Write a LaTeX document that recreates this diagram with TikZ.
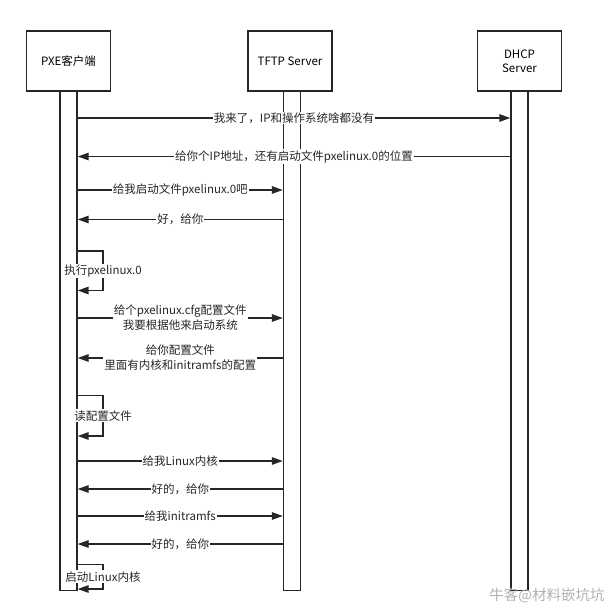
\documentclass[tikz,border=0pt]{standalone}
\usepackage{fontspec}
\setmainfont{Noto Sans CJK SC}
\usetikzlibrary{arrows.meta}
\begin{document}
\begin{tikzpicture}[x=1pt,y=-1pt,
  actor/.style={draw=black!85,line width=1.6pt,fill=white,minimum width=84pt,minimum height=60pt,align=center,font=\fontsize{11.5}{14}\selectfont,inner sep=0pt},
  bar/.style={draw=black!85,line width=1.4pt,fill=white,minimum width=17pt,minimum height=499pt,inner sep=0pt},
  msg/.style={draw=black!85,line width=1.4pt,-{Triangle[length=11pt,width=7.5pt]}},
  loop/.style={draw=black!85,line width=1.6pt,-{Triangle[length=11pt,width=7.5pt]}},
  lbl/.style={fill=white,inner sep=1pt,align=center,font=\fontsize{11.5}{15}\selectfont,text=black!85}]
\useasboundingbox (0,0) rectangle (613,610);
% actors
\node[actor] (pxe) at (68.5,61) {PXE客户端};
\node[actor] (tftp) at (290,61) {TFTP Server};
\node[actor] (dhcp) at (519.5,61) {DHCP\\Server};
% activation bars
\node[bar,anchor=north] (pxebar) at (68.5,91) {};
\node[bar,anchor=north] (tftpbar) at (292,91) {};
\node[bar,anchor=north] (dhcpbar) at (519.5,91) {};
% messages
\draw[msg] (pxebar.east |- 0,118) -- node[lbl]{我来了，IP和操作系统啥都没有} (dhcpbar.west |- 0,118);
\draw[msg] (dhcpbar.west |- 0,156.5) -- node[lbl]{给你个IP地址，还有启动文件pxelinux.0的位置} (pxebar.east |- 0,156.5);
\draw[msg] (pxebar.east |- 0,190) -- node[lbl]{给我启动文件pxelinux.0吧} (tftpbar.west |- 0,190);
\draw[msg] (tftpbar.west |- 0,219.5) -- node[lbl]{好，给你} (pxebar.east |- 0,219.5);
% self loop 1
\coordinate (l1a) at (103,251);
\coordinate (l1b) at (103,290.5);
\draw[loop] (pxebar.east |- l1a) -- (l1a) -- node[lbl,pos=0.5]{执行pxelinux.0} (l1b) -- (pxebar.east |- l1b);
\draw[msg] (pxebar.east |- 0,318) -- node[lbl]{给个pxelinux.cfg配置文件\\我要根据他来启动系统} (tftpbar.west |- 0,318);
\draw[msg] (tftpbar.west |- 0,358) -- node[lbl]{给你配置文件\\里面有内核和initramfs的配置} (pxebar.east |- 0,358);
% self loop 2
\coordinate (l2a) at (103,395.5);
\coordinate (l2b) at (103,436);
\draw[loop] (pxebar.east |- l2a) -- (l2a) -- node[lbl,pos=0.5]{读配置文件} (l2b) -- (pxebar.east |- l2b);
\draw[msg] (pxebar.east |- 0,461) -- node[lbl]{给我Linux内核} (tftpbar.west |- 0,461);
\draw[msg] (tftpbar.west |- 0,489) -- node[lbl]{好的，给你} (pxebar.east |- 0,489);
\draw[msg] (pxebar.east |- 0,516) -- node[lbl]{给我initramfs} (tftpbar.west |- 0,516);
\draw[msg] (tftpbar.west |- 0,544) -- node[lbl]{好的，给你} (pxebar.east |- 0,544);
% self loop 3
\coordinate (l3a) at (103,564.5);
\coordinate (l3b) at (103,589);
\draw[loop] (pxebar.east |- l3a) -- (l3a) -- node[lbl,pos=0.5]{启动Linux内核} (l3b) -- (pxebar.east |- l3b);
% watermark
\node[text=black!30,font=\fontsize{14.5}{16}\selectfont,inner sep=0pt] (wm) at (547,596) {牛客@材料嵌坑坑};
\end{tikzpicture}
\end{document}
